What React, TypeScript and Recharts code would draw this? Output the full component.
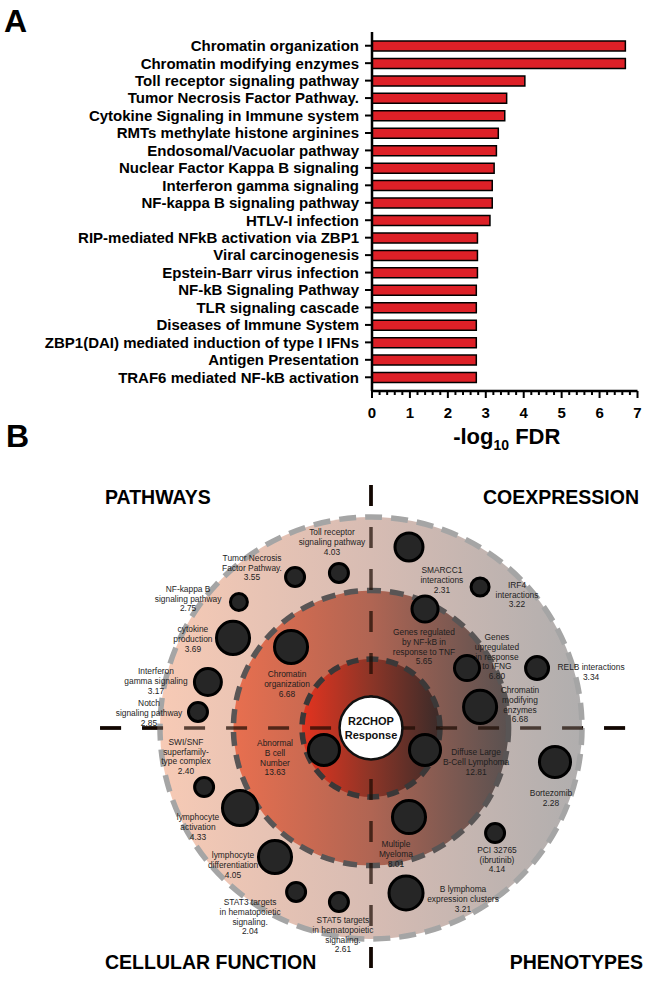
import React from 'react';
import {
  BarChart, Bar, XAxis, YAxis, ScatterChart, Scatter, ZAxis, ReferenceDot, ReferenceLine,
} from 'recharts';

const FONT = '"Liberation Sans", Arial, Helvetica, sans-serif';

// ---------- Panel A: enrichment bars ----------
const pathwayNames = [
  'Chromatin organization',
  'Chromatin modifying enzymes',
  'Toll receptor signaling pathway',
  'Tumor Necrosis Factor Pathway.',
  'Cytokine Signaling in Immune system',
  'RMTs methylate histone arginines',
  'Endosomal/Vacuolar pathway',
  'Nuclear Factor Kappa B signaling',
  'Interferon gamma signaling',
  'NF-kappa B signaling pathway',
  'HTLV-I infection',
  'RIP-mediated NFkB activation via ZBP1',
  'Viral carcinogenesis',
  'Epstein-Barr virus infection',
  'NF-kB Signaling Pathway',
  'TLR signaling cascade',
  'Diseases of Immune System',
  'ZBP1(DAI) mediated induction of type I IFNs',
  'Antigen Presentation',
  'TRAF6 mediated NF-kB activation',
];
const pathwayFdr = [
  6.68, 6.68, 4.03, 3.55, 3.5, 3.33, 3.28, 3.22, 3.17, 3.17,
  3.11, 2.78, 2.78, 2.78, 2.75, 2.75, 2.75, 2.75, 2.75, 2.75,
];
const fdrMajorTicks = [0, 1, 2, 3, 4, 5, 6, 7];
const FDR_MINOR_STEP = 0.2;

const barData = pathwayNames.map((name, i) => ({ name, fdr: pathwayFdr[i] }));
const fdrTicks: number[] = [];
for (let v = 0; v <= fdrMajorTicks[fdrMajorTicks.length - 1] + 1e-9; v += FDR_MINOR_STEP) {
  fdrTicks.push(Math.round(v * 10) / 10);
}

// ---------- Panel B: R2CHOP response map ----------
const termNames = [
  'Toll receptor\nsignaling pathway',
  'Tumor Necrosis\nFactor Pathway.',
  'NF-kappa B\nsignaling pathway',
  'cytokine\nproduction',
  'Interferon\ngamma signaling',
  'Notch\nsignaling pathway',
  'Chromatin\norganization',
  'SMARCC1\ninteractions',
  'IRF4\ninteractions',
  'Genes regulated\nby NF-kB in\nresponse to TNF',
  'Genes\nupregulated\nin response\nto IFNG',
  'RELB interactions',
  'Chromatin\nmodifying\nenzymes',
  'Diffuse Large\nB-Cell Lymphoma',
  'Bortezomib',
  'Multiple\nMyeloma',
  'PCI 32765\n(ibrutinib)',
  'B lymphoma\nexpression clusters',
  'Abnormal\nB cell\nNumber',
  'SWI/SNF\nsuperfamily-\ntype complex',
  'lymphocyte\nactivation',
  'lymphocyte\ndifferentiation',
  'STAT3 targets\nin hematopoietic\nsignaling.',
  'STAT5 targets\nin hematopoietic\nsignaling.',
];
const termScores = [
  4.03, 3.55, 2.75, 3.69, 3.17, 2.85, 6.68,
  2.31, 3.22, 5.65, 6.8, 3.34, 6.68,
  12.81, 2.28, 8.01, 4.14, 3.21,
  13.63, 2.4, 4.33, 4.05, 2.04, 2.61,
];
// bubble weight (drives bubble area through the z axis)
const termWeights = [
  1, 1, 0.8, 3, 2, 1, 3,
  2.16, 0.9, 1.87, 1.73, 1.46, 3,
  2.65, 2.65, 3, 1, 3.18,
  2.65, 1, 3.36, 3, 1, 1,
];

// diagram layout, in units of the outer ring radius (centre = 0,0)
const bubbleSpots = [
  [-0.152, 0.735], [-0.36, 0.716], [-0.626, 0.597], [-0.654, 0.427], [-0.773, 0.218], [-0.82, 0.076], [-0.379, 0.384],
  [0.18, 0.858], [0.517, 0.668], [0.256, 0.564], [0.455, 0.284], [0.787, 0.284], [0.517, 0.1],
  [0.256, -0.104], [0.872, -0.161], [0.18, -0.422], [0.588, -0.498], [0.166, -0.782],
  [-0.223, -0.104], [-0.791, -0.28], [-0.621, -0.379], [-0.455, -0.611], [-0.355, -0.777], [-0.152, -0.825],
];
const labelSpots = [
  [-0.185, 0.929], [-0.564, 0.806], [-0.867, 0.659], [-0.844, 0.469], [-1.019, 0.27], [-1.052, 0.118], [-0.398, 0.256],
  [0.336, 0.749], [0.692, 0.678], [0.251, 0.455], [0.597, 0.431], [1.043, 0.289], [0.706, 0.18],
  [0.498, -0.114], [0.853, -0.308], [0.118, -0.55], [0.597, -0.578], [0.436, -0.763],
  [-0.455, -0.071], [-0.877, -0.066], [-0.82, -0.422], [-0.654, -0.602], [-0.573, -0.825], [-0.133, -0.91],
];
const ringFractions = [1, 0.652, 0.327];
const centerFraction = 0.149;

const bubbles = termNames.map((_, i) => ({ x: bubbleSpots[i][0], y: bubbleSpots[i][1], weight: termWeights[i] }));
const bubbleLabels = termNames.map((name, i) => ({
  x: labelSpots[i][0],
  y: labelSpots[i][1],
  lines: [...name.split('\n'), termScores[i].toFixed(2)],
}));
const centerText = [{ x: 0, y: 0, lines: ['R2CHOP', 'Response'] }];

const B_W = 650;
const B_H = 529;
const UNIT = 211; // px per unit
const CX = 371;
const CY = 273; // centre y inside chart B
const xDomain: [number, number] = [-CX / UNIT, (B_W - CX) / UNIT];
const yDomain: [number, number] = [-(B_H - CY) / UNIT, CY / UNIT];

const quadrantLines = [
  [{ x: 0, y: 1.152 }, { x: 0, y: -1.171 }],
  [{ x: -1.284, y: 0 }, { x: 1.289, y: 0 }],
];

const ringStyles = [
  { id: 'ringOuter', stops: ['#f7cab5', '#d7bcb3', '#b0aeae'], stroke: '#a5a5a5', dash: '17 9' },
  { id: 'ringMiddle', stops: ['#e86f4f', '#b06553', '#5a5150'], stroke: '#595555', dash: '14 9' },
  { id: 'ringInner', stops: ['#e4331f', '#8c3527', '#3b2b29'], stroke: '#3b3838', dash: '12 8' },
];

const FdrTick = (props: any) => {
  const { x, y, payload } = props;
  const major = Math.abs(payload.value - Math.round(payload.value)) < 1e-6;
  return (
    <g>
      <line x1={x} x2={x} y1={y} y2={y + (major ? 7 : 4)} stroke="#000" strokeWidth={2} />
      {major && (
        <text x={x} y={y + 27} textAnchor="middle" fontSize={15} fontWeight={700} fontFamily={FONT} fill="#000">
          {Math.round(payload.value)}
        </text>
      )}
    </g>
  );
};

const FdrTitle = (props: any) => {
  const vb = props.viewBox;
  return (
    <text x={vb.x + vb.width / 2 + 2} y={vb.y + 53} textAnchor="middle" fontSize={22} fontWeight={700} fontFamily={FONT} fill="#000">
      -log<tspan fontSize={14} dy={6}>10</tspan><tspan dy={-6}> FDR</tspan>
    </text>
  );
};

const TermLabel = (props: any) => {
  const { cx, cy, payload } = props;
  return (
    <text x={cx} y={cy} textAnchor="middle" fontSize={8.4} fontFamily={FONT} fill="#1e1e1e">
      {payload.lines.map((line: string, i: number) => (
        <tspan key={i} x={cx} dy={i === 0 ? '0.35em' : 9.8}>{line}</tspan>
      ))}
    </text>
  );
};

const CenterLabel = (props: any) => {
  const { cx, cy, payload } = props;
  return (
    <text x={cx} y={cy} textAnchor="middle" fontSize={11} fontWeight={700} fontFamily={FONT} fill="#111">
      {payload.lines.map((line: string, i: number) => (
        <tspan key={i} x={cx} dy={i === 0 ? -3 : 14}>{line}</tspan>
      ))}
    </text>
  );
};

const titleStyle = { fontFamily: FONT, fontWeight: 700, fill: '#000' } as const;

export default function App() {
  return (
    <div style={{ position: 'absolute', left: 0, top: 0, width: 650, height: 984, background: '#fff', fontFamily: FONT }}>
      <div style={{ position: 'absolute', left: 0, top: 0 }}>
        <BarChart
          width={650}
          height={455}
          data={barData}
          layout="vertical"
          margin={{ top: 32, right: 12.5, bottom: 0, left: 0 }}
        >
          <XAxis
            type="number"
            domain={[0, 7]}
            ticks={fdrTicks}
            interval={0}
            tick={<FdrTick />}
            tickLine={false}
            tickSize={0}
            tickMargin={0}
            height={64}
            axisLine={{ stroke: '#000', strokeWidth: 2.5 }}
            label={{ content: FdrTitle }}
          />
          <YAxis
            type="category"
            dataKey="name"
            width={372}
            interval={0}
            tickSize={7}
            tickMargin={6}
            tickLine={{ stroke: '#000', strokeWidth: 2 }}
            axisLine={{ stroke: '#000', strokeWidth: 2.5 }}
            tick={{ fontSize: 15, fontWeight: 700, fill: '#000', fontFamily: FONT }}
            padding={{ top: 5, bottom: 5 }}
          />
          <Bar dataKey="fdr" fill="#dd2027" stroke="#000" strokeWidth={1.5} barSize={10} isAnimationActive={false} />
        </BarChart>
      </div>

      <div style={{ position: 'absolute', left: 0, top: 455 }}>
        <ScatterChart width={B_W} height={B_H} margin={{ top: 0, right: 0, bottom: 0, left: 0 }}>
          <defs>
            {ringStyles.map((s) => (
              <linearGradient key={s.id} id={s.id} x1="0" y1="0" x2="1" y2="0">
                <stop offset="0%" stopColor={s.stops[0]} />
                <stop offset="50%" stopColor={s.stops[1]} />
                <stop offset="100%" stopColor={s.stops[2]} />
              </linearGradient>
            ))}
          </defs>
          <XAxis type="number" dataKey="x" domain={xDomain} hide allowDataOverflow />
          <YAxis type="number" dataKey="y" domain={yDomain} hide allowDataOverflow />
          <ZAxis type="number" dataKey="weight" domain={[0.8, 3.36]} range={[226, 962]} />
          {quadrantLines.map((seg, i) => (
            <ReferenceLine key={'under' + i} segment={seg} stroke="#000" strokeWidth={3.5} strokeDasharray="21 21" ifOverflow="visible" zIndex={100} />
          ))}
          {ringStyles.map((s, i) => (
            <ReferenceDot
              key={s.id}
              x={0}
              y={0}
              r={ringFractions[i] * UNIT}
              fill={`url(#${s.id})`}
              stroke={s.stroke}
              strokeWidth={5.5}
              strokeDasharray={s.dash}
              ifOverflow="visible"
              zIndex={200 + i}
            />
          ))}
          {quadrantLines.map((seg, i) => (
            <ReferenceLine key={'over' + i} segment={seg} stroke="#1a0800" strokeOpacity={0.7} strokeWidth={3.5} strokeDasharray="21 21" ifOverflow="visible" zIndex={300} />
          ))}
          <ReferenceDot x={0} y={0} r={centerFraction * UNIT} fill="#fff" stroke="#111" strokeWidth={2.5} ifOverflow="visible" zIndex={350} />
          <Scatter data={bubbles} fill="#262626" stroke="#000" strokeWidth={3} isAnimationActive={false} zIndex={600} />
          <Scatter data={bubbleLabels} shape={TermLabel} isAnimationActive={false} zIndex={700} />
          <Scatter data={centerText} shape={CenterLabel} isAnimationActive={false} zIndex={700} />
        </ScatterChart>
      </div>

      <svg width={650} height={984} style={{ position: 'absolute', left: 0, top: 0, pointerEvents: 'none' }}>
        <text x={4} y={32} fontSize={32} {...titleStyle}>A</text>
        <text x={6} y={447} fontSize={32} {...titleStyle}>B</text>
        <text x={105} y={504} fontSize={19.5} {...titleStyle}>PATHWAYS</text>
        <text x={639} y={504} fontSize={19.5} textAnchor="end" {...titleStyle}>COEXPRESSION</text>
        <text x={105} y={969} fontSize={19.5} {...titleStyle}>CELLULAR FUNCTION</text>
        <text x={643} y={969} fontSize={19.5} textAnchor="end" {...titleStyle}>PHENOTYPES</text>
      </svg>
    </div>
  );
}
